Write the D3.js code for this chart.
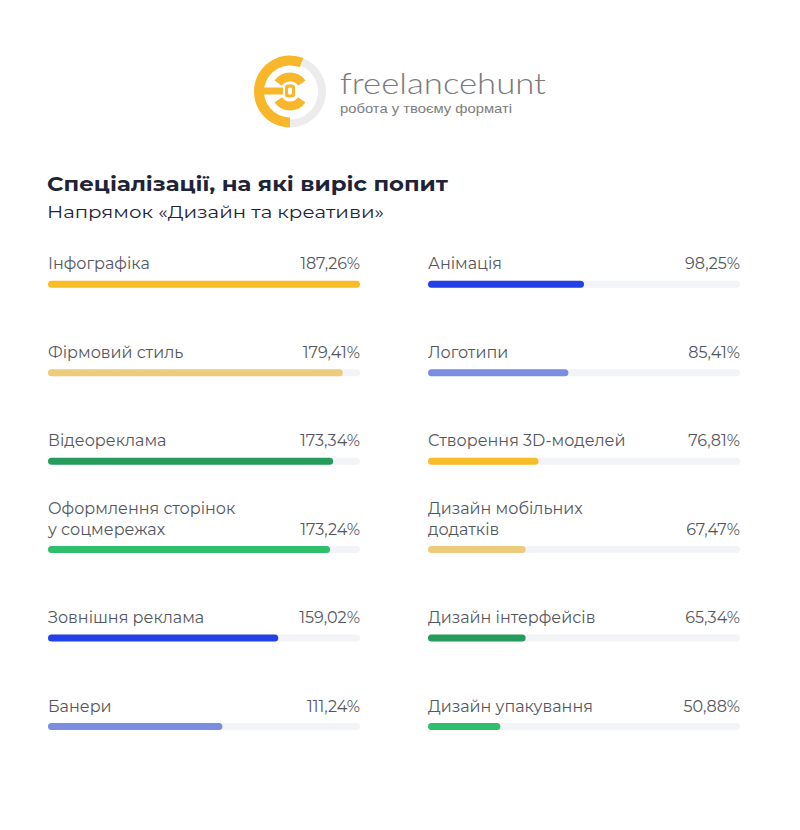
<!DOCTYPE html>
<html><head><meta charset="utf-8">
<script src="https://cdn.jsdelivr.net/npm/d3@7"></script>
<style>
html,body{margin:0;padding:0;background:#fff;}
svg{display:block;}
</style></head>
<body>
<svg id="chart" width="800" height="830"></svg>
<script>
// ---- data ----
const leftCategories = ["Інфографіка","Фірмовий стиль","Відеореклама","Оформлення сторінок\nу соцмережах","Зовнішня реклама","Банери"];
const leftValues = [187.26,179.41,173.34,173.24,159.02,111.24];
const leftBarLevel = [100,94.5,91.4,90.4,73.8,55.9];
const rightCategories = ["Анімація","Логотипи","Створення 3D-моделей","Дизайн мобільних\nдодатків","Дизайн інтерфейсів","Дизайн упакування"];
const rightValues = [98.25,85.41,76.81,67.47,65.34,50.88];
const rightBarLevel = [50,45,35.4,31.3,31.3,23.2];
const leftColors = ["#f6bd27","#edcb7a","#259b5c","#2ebf6d","#2340e6","#7b8de0"];
const rightColors = ["#2340e6","#7b8de0","#f6bd27","#edcb7a","#259b5c","#2ebf6d"];
const title = "Спеціалізації, на які виріс попит";
const subtitle = "Напрямок «Дизайн та креативи»";

const svg = d3.select("#chart");
const FONT = "Montserrat, Inter, 'Open Sans', sans-serif";

// ---- logo ----
const logo = svg.append("g").attr("transform","translate(290,91.5)");
const arc = d3.arc();
logo.append("path").attr("d", arc({innerRadius:28, outerRadius:36, startAngle:0.35, endAngle:Math.PI})).attr("fill","#ececec");
logo.append("path").attr("d", arc({innerRadius:26, outerRadius:36, startAngle:Math.PI, endAngle:2*Math.PI+0.38})).attr("fill","#f8b62a");
logo.append("path").attr("d", arc({innerRadius:10, outerRadius:19, startAngle:-0.95, endAngle:0.95})).attr("fill","#f8b62a");
logo.append("path").attr("d", arc({innerRadius:10, outerRadius:19, startAngle:Math.PI-0.95, endAngle:Math.PI+0.95})).attr("fill","#f8b62a");
logo.append("rect").attr("x",-33).attr("y",-4).attr("width",26).attr("height",7).attr("fill","#f8b62a");
logo.append("rect").attr("x",-6).attr("y",-8).attr("width",12).attr("height",15).attr("rx",4).attr("fill","#f8b62a").attr("stroke","#fff").attr("stroke-width",2);
logo.append("rect").attr("x",-2).attr("y",-4).attr("width",4).attr("height",7).attr("rx",1.5).attr("fill","#fff");

svg.append("text").attr("x",340).attr("y",94).attr("font-family","Lato, 'Open Sans', sans-serif").attr("font-weight",300)
  .attr("font-size",29).attr("fill","#7a7a7a").attr("textLength",206).attr("lengthAdjust","spacingAndGlyphs").text("freelancehunt");
svg.append("text").attr("x",340).attr("y",112.5).attr("font-family","'Liberation Sans', Arial, sans-serif")
  .attr("font-size",13.5).attr("fill","#7d7d7d").attr("textLength",172).attr("lengthAdjust","spacingAndGlyphs").text("робота у твоєму форматі");

// ---- titles ----
svg.append("text").attr("x",47).attr("y",191).attr("font-family",FONT).attr("font-weight",700)
  .attr("font-size",20.5).attr("fill","#1e2337").attr("textLength",401).attr("lengthAdjust","spacingAndGlyphs").text(title);
svg.append("text").attr("x",47).attr("y",218).attr("font-family",FONT).attr("font-weight",400)
  .attr("font-size",17.5).attr("fill","#1e2337").attr("textLength",337).attr("lengthAdjust","spacingAndGlyphs").text(subtitle);

// ---- bars ----
const trackW = 312;
const x = d3.scaleLinear().domain([0,100]).range([0,trackW]);
const y = d3.scaleLinear().domain([0,5]).range([284.3, 726.5]);
const fmt = v => d3.format(".2f")(v).replace(".", ",") + "%";

function column(x0, cats, vals, levels, colors){
  const g = svg.append("g").attr("transform",`translate(${x0},0)`);
  const rows = g.selectAll("g.row").data(cats.map((c,i)=>({c, v:vals[i], l:levels[i], col:colors[i], i})))
    .join("g").attr("class","row").attr("transform",d=>`translate(0,${y(d.i)})`);
  rows.append("rect").attr("x",0).attr("y",-3.5).attr("width",x(100)).attr("height",7).attr("rx",3.5).attr("fill","#f3f4f8");
  rows.append("rect").attr("x",0).attr("y",-3.5).attr("width",d=>x(d.l)).attr("height",7).attr("rx",3.5).attr("fill",d=>d.col);
  rows.each(function(d){
    const lines = d.c.split("\n");
    const t = d3.select(this).append("text").attr("font-family",FONT).attr("font-size",16).attr("fill","#54565e");
    lines.forEach((ln,k)=>{
      t.append("tspan").attr("x",0).attr("y",-15 - (lines.length-1-k)*20.5).text(ln);
    });
  });
  rows.append("text").attr("x",trackW).attr("y",-15).attr("text-anchor","end").attr("font-family",FONT)
    .attr("font-size",16).attr("fill","#54565e").text(d=>fmt(d.v));
}
column(48, leftCategories, leftValues, leftBarLevel, leftColors);
column(428, rightCategories, rightValues, rightBarLevel, rightColors);
</script>
</body></html>
